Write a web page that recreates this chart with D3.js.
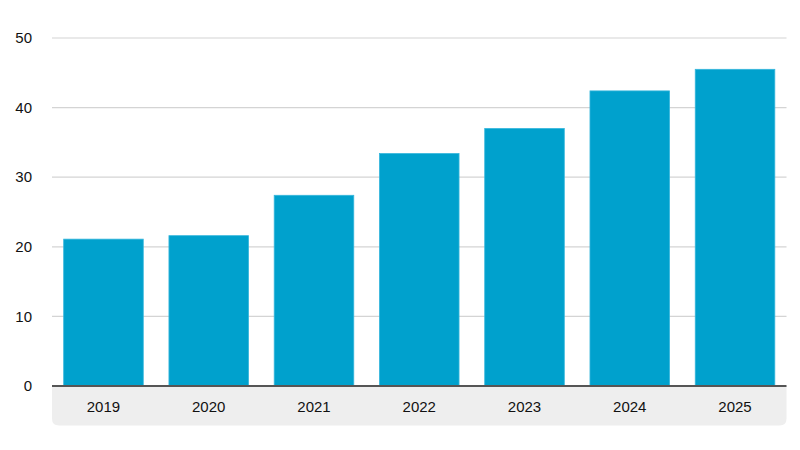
<!DOCTYPE html>
<html>
<head>
<meta charset="utf-8">
<script src="https://cdn.jsdelivr.net/npm/d3@7"></script>
<style>
  html, body { margin: 0; padding: 0; background: #fff; }
  svg { display: block; }
  text { font-family: "Liberation Sans", Arial, Helvetica, sans-serif; fill: #111; }
</style>
</head>
<body>
<svg id="chart" width="800" height="450"></svg>
<script>
const years = ["2019", "2020", "2021", "2022", "2023", "2024", "2025"];
const values = [21.1, 21.6, 27.4, 33.4, 37.0, 42.4, 45.5];
const yTicks = [0, 10, 20, 30, 40, 50];

(function () {
const svg = d3.select("#chart");
const mLeft = 52, mRight = 786.5, mTop = 38, mBottom = 386;

const x = d3.scaleBand().domain(years).range([mLeft, mRight]).paddingInner(0.244).paddingOuter(0.111);
const y = d3.scaleLinear().domain([0, 50]).range([mBottom, mTop]);

// x-axis band background (rounded bottom corners)
const bandH = 39.5, r = 7;
svg.append("path")
  .attr("d", `M${mLeft},${mBottom} H${mRight} V${mBottom + bandH - r} Q${mRight},${mBottom + bandH} ${mRight - r},${mBottom + bandH} H${mLeft + r} Q${mLeft},${mBottom + bandH} ${mLeft},${mBottom + bandH - r} Z`)
  .attr("fill", "#eeeeee");

// gridlines
svg.append("g").selectAll("line")
  .data(yTicks.filter(d => d > 0))
  .join("line")
  .attr("x1", mLeft).attr("x2", mRight)
  .attr("y1", d => y(d)).attr("y2", d => y(d))
  .attr("stroke", "#d4d4d4").attr("stroke-width", 1.2);

// y tick labels
svg.append("g").selectAll("text")
  .data(yTicks)
  .join("text")
  .attr("x", 32)
  .attr("y", d => y(d))
  .attr("dy", "0.35em")
  .attr("text-anchor", "end")
  .attr("font-size", 15)
  .text(d => d);

// bars
svg.append("g").selectAll("rect")
  .data(values)
  .join("rect")
  .attr("x", (d, i) => x(years[i]))
  .attr("width", x.bandwidth())
  .attr("y", d => y(d))
  .attr("height", d => y(0) - y(d))
  .attr("fill", "#00a1cd")
  .attr("stroke", "#35b6dc")
  .attr("stroke-width", 0.8);

// axis line
svg.append("line")
  .attr("x1", mLeft).attr("x2", mRight)
  .attr("y1", mBottom).attr("y2", mBottom)
  .attr("stroke", "#555").attr("stroke-width", 2);

// x labels
svg.append("g").selectAll("text")
  .data(years)
  .join("text")
  .attr("x", d => x(d) + x.bandwidth() / 2)
  .attr("y", 407)
  .attr("dy", "0.35em")
  .attr("text-anchor", "middle")
  .attr("font-size", 15)
  .text(d => d);
})();
</script>
</body>
</html>
